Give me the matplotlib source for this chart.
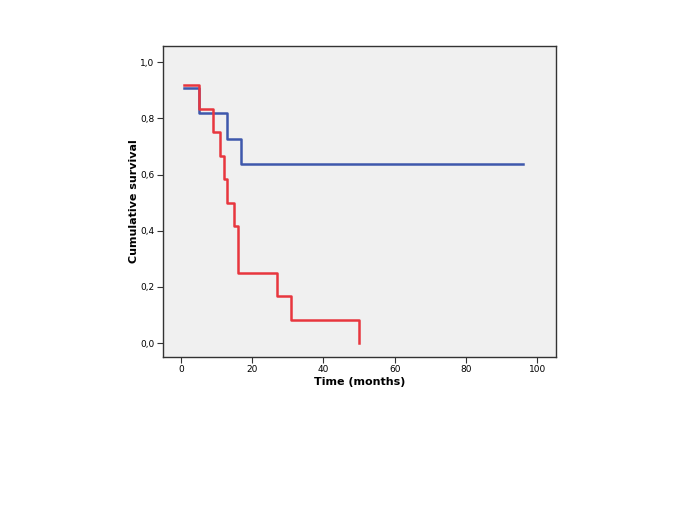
import matplotlib
matplotlib.use("Agg")
from matplotlib import pyplot as plt
from matplotlib.ticker import FuncFormatter

# Kaplan-Meier steps
blue_times = [1, 5, 13, 17, 96]
blue_surv = [0.909, 0.818, 0.727, 0.636, 0.636]

red_times = [1, 5, 9, 11, 12, 13, 15, 16, 27, 31, 50]
red_surv = [0.917, 0.833, 0.75, 0.667, 0.583, 0.5, 0.417, 0.25, 0.167, 0.083, 0.0]

x_ticks = [0, 20, 40, 60, 80, 100]
y_ticks = [0.0, 0.2, 0.4, 0.6, 0.8, 1.0]

fig = plt.figure(figsize=(6.85, 5.13), dpi=100)
ax = fig.add_axes([0.238, 0.304, 0.574, 0.606])
ax.set_facecolor("#f0f0f0")

ax.step(blue_times, blue_surv, where="post", color="#3e58ac", lw=1.8)
ax.step(red_times, red_surv, where="post", color="#e8363e", lw=1.8)

ax.set_xlim(-5, 105.3)
ax.set_ylim(-0.05, 1.057)
ax.set_xticks(x_ticks)
ax.set_yticks(y_ticks)
ax.yaxis.set_major_formatter(FuncFormatter(lambda v, p: f"{v:.1f}".replace(".", ",")))
ax.tick_params(labelsize=6.5, length=4, width=0.8, color="#333333", pad=2)

for s in ax.spines.values():
    s.set_color("#333333")
    s.set_linewidth(1.0)

ax.set_xlabel("Time (months)", fontsize=8, fontweight="bold", labelpad=2)
ax.set_ylabel("Cumulative survival", fontsize=8, fontweight="bold", labelpad=1)

fig.savefig("out.png", dpi=100)
